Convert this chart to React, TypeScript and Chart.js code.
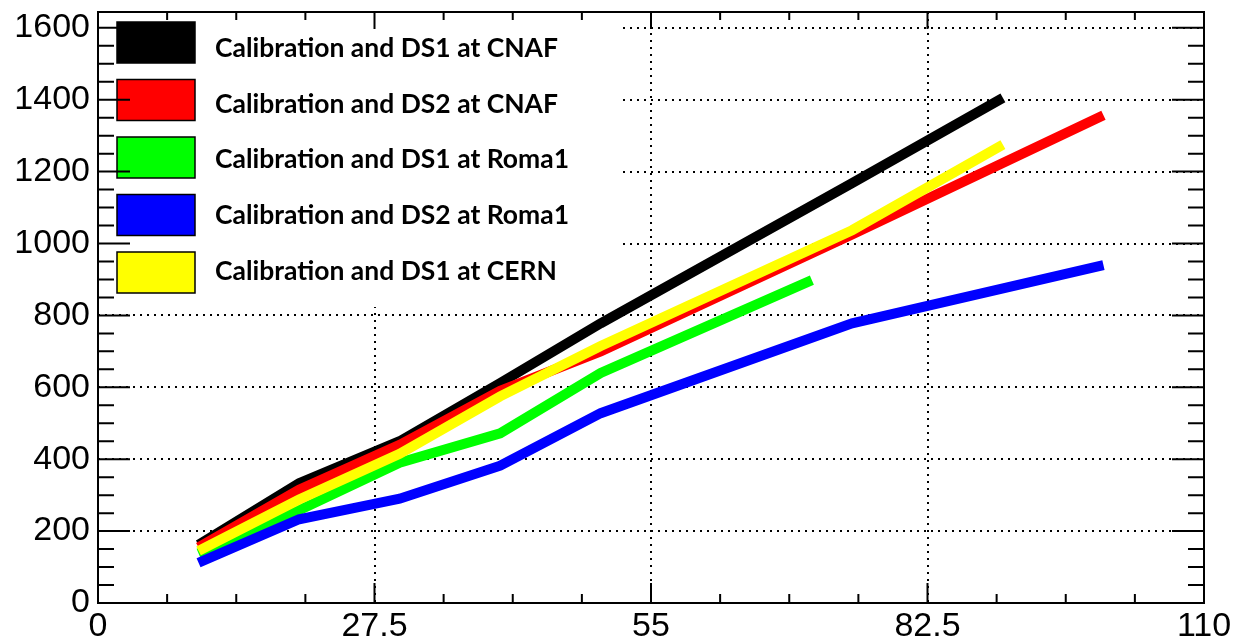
import { useEffect, useRef } from "react";
import { Chart, registerables } from "chart.js";

Chart.register(...registerables);

// Series names and colours, in legend order
const seriesLabels = [
  "Calibration and DS1 at CNAF",
  "Calibration and DS2 at CNAF",
  "Calibration and DS1 at Roma1",
  "Calibration and DS2 at Roma1",
  "Calibration and DS1 at CERN",
];
const seriesColors = ["#000000", "#ff0000", "#00ff00", "#0000ff", "#ffff00"];

// Measured points per site
const cnafDs1X = [10, 20, 30, 40, 50, 75, 90];
const cnafDs1Y = [162, 333, 450, 612, 778, 1168, 1405];
const cnafDs2X = [10, 20, 30, 40, 50, 75, 100];
const cnafDs2Y = [155, 315, 440, 590, 700, 1025, 1357];
const roma1Ds1X = [10, 20, 30, 40, 50, 71];
const roma1Ds1Y = [138, 258, 390, 472, 640, 898];
const roma1Ds2X = [10, 20, 30, 40, 50, 75, 100];
const roma1Ds2Y = [112, 233, 290, 382, 528, 778, 940];
const cernDs1X = [10, 20, 30, 40, 50, 75, 90];
const cernDs1Y = [145, 288, 415, 575, 715, 1037, 1275];

const seriesX = [cnafDs1X, cnafDs2X, roma1Ds1X, roma1Ds2X, cernDs1X];
const seriesY = [cnafDs1Y, cnafDs2Y, roma1Ds1Y, roma1Ds2Y, cernDs1Y];

// Axis ranges and major tick values
const xMin = 0;
const xMax = 110;
const xStep = 27.5;
const yMin = 0;
const yMax = 1644;
const yStep = 200;
const xMajorTicks = [0, 27.5, 55, 82.5, 110];
const yMajorTicks = [0, 200, 400, 600, 800, 1000, 1200, 1400, 1600];
const minorDivisions = 4;

function minorValues(majors: number[], step: number, max: number) {
  const out: number[] = [];
  for (const m of majors) {
    for (let k = 1; k < minorDivisions; k++) {
      const v = m + (step * k) / minorDivisions;
      if (v < max) out.push(v);
    }
  }
  return out;
}

const legendPlugin = {
  id: "boxLegend",
  beforeDatasetsDraw(chart: any) {
    const { ctx, chartArea } = chart;
    ctx.save();
    ctx.fillStyle = "#ffffff";
    ctx.fillRect(chartArea.left + 1, chartArea.top + 1, 524, 294);

    ctx.font = "bold 27px Lato";
    const sx = 343 / ctx.measureText(seriesLabels[0]).width;
    seriesLabels.forEach((label, i) => {
      const top = 22 + i * 57.5;
      ctx.fillStyle = seriesColors[i];
      ctx.fillRect(117, top, 78, 41);
      ctx.strokeStyle = "#000000";
      ctx.lineWidth = 1.5;
      ctx.strokeRect(117, top, 78, 41);

      ctx.save();
      ctx.fillStyle = "#000000";
      ctx.textBaseline = "alphabetic";
      ctx.textAlign = "left";
      ctx.translate(215, 56.7 + i * 55.8);
      ctx.scale(sx, 1);
      ctx.fillText(label, 0, 0);
      ctx.restore();
    });
    ctx.restore();
  },
};

const framePlugin = {
  id: "frameTicks",
  afterDraw(chart: any) {
    const { ctx, chartArea, scales } = chart;
    const { left, right, top, bottom } = chartArea;
    const xs = scales.x;
    const ys = scales.y;
    ctx.save();
    ctx.strokeStyle = "#000000";
    ctx.lineWidth = 2;
    ctx.beginPath();
    const xMinor = minorValues(xMajorTicks, xStep, xMax);
    const yMinor = minorValues(yMajorTicks, yStep, yMax);
    const tickX = (v: number, lenBottom: number, lenTop: number) => {
      const px = xs.getPixelForValue(v);
      ctx.moveTo(px, bottom);
      ctx.lineTo(px, bottom - lenBottom);
      ctx.moveTo(px, top);
      ctx.lineTo(px, top + lenTop);
    };
    const tickY = (v: number, len: number) => {
      const py = ys.getPixelForValue(v);
      ctx.moveTo(left, py);
      ctx.lineTo(left + len, py);
      ctx.moveTo(right, py);
      ctx.lineTo(right - len, py);
    };
    xMajorTicks.forEach((v) => tickX(v, 20, 17));
    xMinor.forEach((v) => tickX(v, 9, 8));
    yMajorTicks.forEach((v) => tickY(v, 32));
    yMinor.forEach((v) => tickY(v, 16));
    ctx.stroke();
    ctx.strokeRect(left, top, right - left, bottom - top);
    ctx.restore();
  },
};

export default function App() {
  const canvasRef = useRef<HTMLCanvasElement | null>(null);

  useEffect(() => {
    const canvas = canvasRef.current;
    if (!canvas) return;
    const datasets = seriesLabels.map((label, i) => ({
      label,
      data: seriesX[i].map((x, j) => ({ x, y: seriesY[i][j] })),
      borderColor: seriesColors[i],
      backgroundColor: seriesColors[i],
      borderWidth: 10,
      borderCapStyle: "butt" as const,
      borderJoinStyle: "miter" as const,
      pointRadius: 0,
      tension: 0,
      fill: false,
      order: seriesLabels.length - i,
    }));

    const tickFont = { family: "'Liberation Sans', Arial, sans-serif", size: 34 };

    const chart = new Chart(canvas, {
      type: "line",
      data: { datasets },
      plugins: [legendPlugin, framePlugin],
      options: {
        animation: false,
        responsive: false,
        devicePixelRatio: 1,
        layout: { padding: { top: 12, right: 45, left: 0, bottom: 0 } },
        plugins: {
          legend: { display: false },
          tooltip: { enabled: false },
        },
        scales: {
          x: {
            type: "linear",
            min: xMin,
            max: xMax,
            afterFit(scale: any) {
              scale.height = 35;
              scale.paddingLeft = 0;
              scale.paddingRight = 0;
            },
            afterBuildTicks(scale: any) {
              scale.ticks = xMajorTicks.map((value) => ({ value }));
            },
            ticks: {
              autoSkip: false,
              maxRotation: 0,
              padding: 3,
              color: "#000000",
              font: tickFont,
              callback: (v: any) => String(v),
            },
            grid: {
              color: "#000000",
              lineWidth: 2,
              drawTicks: false,
            },
            border: { display: false, dash: [2, 5] },
          },
          y: {
            type: "linear",
            min: yMin,
            max: yMax,
            afterFit(scale: any) {
              scale.width = 98;
              scale.paddingTop = 0;
              scale.paddingBottom = 0;
            },
            afterBuildTicks(scale: any) {
              scale.ticks = yMajorTicks.map((value) => ({ value }));
            },
            ticks: {
              autoSkip: false,
              padding: 8,
              color: "#000000",
              font: tickFont,
              callback: (v: any) => String(v),
            },
            grid: {
              color: "#000000",
              lineWidth: 2,
              drawTicks: false,
            },
            border: { display: false, dash: [2, 5] },
          },
        },
      },
    });
    return () => chart.destroy();
  }, []);

  return (
    <div style={{ position: "fixed", left: 0, top: 0, width: 1249, height: 638, background: "#ffffff" }}>
      <canvas ref={canvasRef} width={1249} height={638} style={{ display: "block" }} />
    </div>
  );
}
